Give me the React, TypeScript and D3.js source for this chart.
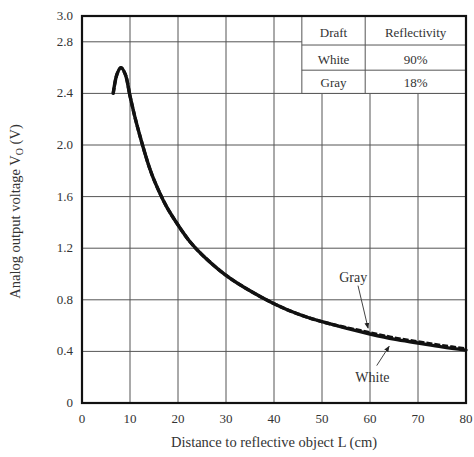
import * as d3 from 'd3';
import React from 'react';

const width = 474;
const height = 457;
const margin = { top: 16, right: 8, bottom: 54, left: 82 };
const ink = '#111';
const gridColor = '#555';
const textColor = '#333';
const font = '"Liberation Serif", "DejaVu Serif", serif';

// distance L (cm) and output voltage (V)
const distance = [6.5, 7.3, 8.1, 9, 10, 11, 12, 13, 14, 15, 17.5, 20, 22.5, 25, 30, 35, 40, 45, 50, 55, 60, 65, 70, 75, 80];
const whiteVolts = [2.4, 2.55, 2.6, 2.55, 2.38, 2.22, 2.08, 1.95, 1.83, 1.73, 1.53, 1.38, 1.25, 1.15, 0.99, 0.87, 0.77, 0.69, 0.63, 0.58, 0.535, 0.495, 0.465, 0.435, 0.41];
const grayVolts = [2.4, 2.55, 2.6, 2.55, 2.38, 2.22, 2.08, 1.95, 1.83, 1.73, 1.53, 1.38, 1.25, 1.15, 0.99, 0.87, 0.77, 0.69, 0.63, 0.585, 0.545, 0.505, 0.475, 0.445, 0.42];

const xTicks = [0, 10, 20, 30, 40, 50, 60, 70, 80];
const yTicks = [0, 0.4, 0.8, 1.2, 1.6, 2.0, 2.4, 2.8, 3.0];
const yTickLabels = ['0', '0.4', '0.8', '1.2', '1.6', '2.0', '2.4', '2.8', '3.0'];

const tableDrafts = ['White', 'Gray'];
const tableReflectivity = ['90%', '18%'];

export default function App() {
  const x = d3.scaleLinear().domain([0, 80]).range([margin.left, width - margin.right]);
  const y = d3.scaleLinear().domain([0, 3]).range([height - margin.bottom, margin.top]);

  const line = d3
    .line<number>()
    .x((_, i) => x(distance[i]))
    .curve(d3.curveCatmullRom.alpha(0.5));

  const whitePath = line.y(d => y(d))(whiteVolts);
  const grayPath = line.y(d => y(d))(grayVolts);

  // table sits in the top-right corner, bottom on the 2.4 V gridline
  const tLeft = x(45.8);
  const tMid = x(59);
  const tRight = x(80);
  const rows = [y(3), y(2.775), y(2.58), y(2.4)];

  return (
    <svg width={width} height={height} style={{ position: 'absolute', left: 0, top: 0, background: '#fff' }}>
      <defs>
        <marker id="arrow" viewBox="0 0 10 10" refX="9" refY="5" markerWidth="6" markerHeight="6" orient="auto">
          <path d="M0,1 L10,5 L0,9 z" fill="#222" />
        </marker>
      </defs>

      {/* grid */}
      {xTicks.slice(1, -1).map(t => (
        <line key={'gx' + t} x1={x(t)} x2={x(t)} y1={y(0)} y2={y(3)} stroke={gridColor} strokeWidth={1} />
      ))}
      {yTicks.filter(t => t > 0 && t < 3).map(t => (
        <line key={'gy' + t} x1={x(0)} x2={x(80)} y1={y(t)} y2={y(t)} stroke={gridColor} strokeWidth={1} />
      ))}

      {/* legend table */}
      <rect x={tLeft} y={rows[0]} width={tRight - tLeft} height={rows[3] - rows[0]} fill="#fff" stroke={gridColor} strokeWidth={1} />
      <line x1={tMid} x2={tMid} y1={rows[0]} y2={rows[3]} stroke={gridColor} />
      {rows.slice(1, 3).map((r, i) => (
        <line key={'tr' + i} x1={tLeft} x2={tRight} y1={r} y2={r} stroke={gridColor} />
      ))}
      <g fontFamily={font} fontSize={13} fill={textColor} textAnchor="middle">
        <text x={(tLeft + tMid) / 2} y={rows[1] - 8}>Draft</text>
        <text x={(tMid + tRight) / 2} y={rows[1] - 8}>Reflectivity</text>
        {tableDrafts.map((d, i) => (
          <g key={d}>
            <text x={(tLeft + tMid) / 2} y={rows[i + 2] - 6}>{d}</text>
            <text x={(tMid + tRight) / 2} y={rows[i + 2] - 6}>{tableReflectivity[i]}</text>
          </g>
        ))}
      </g>

      {/* curves */}
      <path d={grayPath ?? ''} fill="none" stroke={ink} strokeWidth={3.2} strokeDasharray="6 2" strokeLinejoin="round" />
      <path d={whitePath ?? ''} fill="none" stroke={ink} strokeWidth={3.4} strokeLinejoin="round" strokeLinecap="round" />

      {/* annotations */}
      <g fontFamily={font} fontSize={14} fill={textColor} textAnchor="middle">
        <text x={x(56.5)} y={y(0.94)}>Gray</text>
        <line x1={x(57.5)} y1={y(0.91)} x2={x(59.6)} y2={y(0.58)} stroke="#444" strokeWidth={1} markerEnd="url(#arrow)" />
        <text x={x(60.5)} y={y(0.16)}>White</text>
        <line x1={x(61.4)} y1={y(0.29)} x2={x(64)} y2={y(0.44)} stroke="#444" strokeWidth={1} markerEnd="url(#arrow)" />
      </g>

      {/* frame */}
      <rect x={x(0)} y={y(3)} width={x(80) - x(0)} height={y(0) - y(3)} fill="none" stroke={ink} strokeWidth={2.2} />

      {/* tick labels */}
      <g fontFamily={font} fontSize={13} fill={textColor}>
        {yTicks.map((t, i) => (
          <text key={'yl' + t} x={x(0) - 9} y={y(t) + 4} textAnchor="end">{yTickLabels[i]}</text>
        ))}
        {xTicks.map(t => (
          <text key={'xl' + t} x={x(t)} y={y(0) + 20} textAnchor="middle">{t}</text>
        ))}
      </g>

      {/* axis titles */}
      <text x={(x(0) + x(80)) / 2} y={height - 10} fontFamily={font} fontSize={14.5} fill={textColor} textAnchor="middle">
        Distance to reflective object L (cm)
      </text>
      <text
        transform={`translate(20, ${(y(0) + y(3)) / 2 + 2}) rotate(-90)`}
        fontFamily={font}
        fontSize={14.5}
        fill={textColor}
        textAnchor="middle"
      >
        Analog output voltage V<tspan fontSize={10} dy={3}>O</tspan>
        <tspan dy={-3}> (V)</tspan>
      </text>
    </svg>
  );
}
